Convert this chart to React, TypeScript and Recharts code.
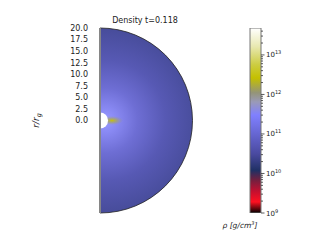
import { PieChart, Pie, ComposedChart, BarChart, Bar, XAxis, YAxis } from 'recharts';

const title = 'Density t=0.118';
const rTicks = [0, 2.5, 5, 7.5, 10, 12.5, 15, 17.5, 20];
const rDomain = [-20, 20];
const rOuter = 20;
const rInner = 1.75;
const diskData = [{ name: 'disk', value: 1 }];
const holeData = [{ name: 'hole', value: 1 }];
const rhoRange = [1e9, 4.8e13];
const rhoMajor = [1e9, 1e10, 1e11, 1e12, 1e13];
const rhoMinorMult = [2, 3, 4, 5, 6, 7, 8, 9];
const rhoTicks = [
  ...rhoMajor,
  ...rhoMajor.flatMap((d) => rhoMinorMult.map((m) => m * d)).filter((v) => v < rhoRange[1]),
];
const cbData = [{ name: 'rho', range: rhoRange }];

// colormap stops, bottom (0) to top (1)
const cmap: [number, string][] = [
  [0, '#000000'],
  [0.06, '#ff1020'],
  [0.12, '#c01030'],
  [0.18, '#702040'],
  [0.23, '#203064'],
  [0.32, '#4a4aa0'],
  [0.45, '#6c6cdc'],
  [0.53, '#8080ff'],
  [0.6, '#9a9ab8'],
  [0.65, '#949478'],
  [0.73, '#c4c000'],
  [0.8, '#cccc40'],
  [0.9, '#e8e8b0'],
  [1, '#ffffff'],
];

const W = 320;
const H = 240;
const plot = { left: 100, top: 28, width: 92, height: 185 };
const cx = plot.left;
const cy = plot.top + plot.height / 2;
const pxPerR = plot.height / (rDomain[1] - rDomain[0]);

const CbTick = (props: any) => {
  const { x, y, payload } = props;
  const v = payload.value;
  const major = rhoMajor.includes(v);
  return (
    <g>
      <line x1={x} x2={x + (major ? 3.5 : 2)} y1={y} y2={y} stroke="#333" strokeWidth={0.8} />
      {major && (
        <text x={x + 5} y={y + 2.5} fontSize={7} fill="#222">
          10
          <tspan fontSize={5} dy={-3}>
            {Math.round(Math.log10(v))}
          </tspan>
        </text>
      )}
    </g>
  );
};

export default function App() {
  return (
    <div style={{ position: 'absolute', left: 0, top: 0, width: W, height: H, fontFamily: 'DejaVu Sans', background: '#fff' }}>
      <div style={{ position: 'absolute', left: 0, top: 0 }}>
        <PieChart width={W} height={H} margin={{ top: 0, right: 0, bottom: 0, left: 0 }}>
          <defs>
            <radialGradient id="rho" gradientUnits="userSpaceOnUse" cx={cx + 5} cy={cy} r={rOuter * pxPerR}>
              <stop offset="0" stopColor="#9a9aff" />
              <stop offset="0.12" stopColor="#8a8af4" />
              <stop offset="0.35" stopColor="#6e6ed4" />
              <stop offset="0.65" stopColor="#5759b4" />
              <stop offset="1" stopColor="#474c9a" />
            </radialGradient>
            <radialGradient
              id="blob"
              gradientUnits="userSpaceOnUse"
              cx={cx + 12}
              cy={cy}
              r={11}
              gradientTransform={`translate(${cx + 12} ${cy}) scale(1 0.4) translate(${-(cx + 12)} ${-cy})`}
            >
              <stop offset="0" stopColor="#c8c400" stopOpacity={0.95} />
              <stop offset="0.4" stopColor="#b4b030" stopOpacity={0.6} />
              <stop offset="1" stopColor="#9a9a70" stopOpacity={0} />
            </radialGradient>
          </defs>
          <Pie
            data={diskData}
            dataKey="value"
            cx={cx}
            cy={cy}
            startAngle={90}
            endAngle={-90}
            innerRadius={0}
            outerRadius={rOuter * pxPerR}
            fill="url(#rho)"
            stroke="#222"
            strokeWidth={0.8}
            isAnimationActive={false}
          />
          <Pie
            data={diskData}
            dataKey="value"
            cx={cx}
            cy={cy}
            startAngle={90}
            endAngle={-90}
            innerRadius={0}
            outerRadius={rOuter * pxPerR - 1}
            fill="url(#blob)"
            stroke="none"
            isAnimationActive={false}
          />
          <Pie
            data={holeData}
            dataKey="value"
            cx={cx}
            cy={cy}
            startAngle={90}
            endAngle={-90}
            innerRadius={0}
            outerRadius={rInner * pxPerR}
            fill="#ffffff"
            stroke="none"
            isAnimationActive={false}
          />
        </PieChart>
      </div>
      <div style={{ position: 'absolute', left: 0, top: 0 }}>
        <ComposedChart
          width={W}
          height={H}
          data={rTicks.map((r) => ({ r }))}
          margin={{ top: plot.top, right: W - plot.left - plot.width, bottom: H - plot.top - plot.height, left: 0 }}
        >
          <XAxis dataKey="r" hide />
          <YAxis
            type="number"
            width={plot.left}
            domain={rDomain}
            ticks={rTicks}
            interval={0}
            allowDataOverflow
            tickFormatter={(v: number) => v.toFixed(1)}
            tick={{ fontSize: 8, fill: '#222' }}
            tickLine={false}
            tickMargin={6}
            axisLine={{ stroke: '#868686', strokeWidth: 2 }}
          />
          <text x={145} y={23} fontSize={8} fill="#222" textAnchor="middle">
            {title}
          </text>
          <text x={39} y={cy} fontSize={9} fill="#222" fontStyle="italic" textAnchor="middle" transform={`rotate(-90 39 ${cy})`}>
            r/r
            <tspan fontSize={6.5} dy={2}>g</tspan>
          </text>
        </ComposedChart>
      </div>
      <div style={{ position: 'absolute', left: 0, top: 0 }}>
        <BarChart
          width={W}
          height={H}
          data={cbData}
          barCategoryGap={0}
          margin={{ top: plot.top, right: 0, bottom: H - plot.top - plot.height, left: 250 }}
        >
          <defs>
            <linearGradient id="cmap" x1="0" y1="1" x2="0" y2="0">
              {cmap.map(([o, c]) => (
                <stop key={o} offset={o} stopColor={c} />
              ))}
            </linearGradient>
          </defs>
          <XAxis dataKey="name" hide />
          <YAxis
            orientation="right"
            width={59}
            scale="log"
            type="number"
            domain={rhoRange}
            allowDataOverflow
            ticks={rhoTicks}
            interval={0}
            tickSize={0}
            tickMargin={0}
            tickLine={false}
            axisLine={false}
            tick={<CbTick />}
          />
          <Bar dataKey="range" fill="url(#cmap)" stroke="#777" strokeWidth={1} isAnimationActive={false} />
          <text x={240} y={228} fontSize={7.5} fill="#222" fontStyle="italic" textAnchor="middle">
            ρ [g/cm
            <tspan fontSize={5} dy={-3}>3</tspan>
            <tspan dy={3}>]</tspan>
          </text>
        </BarChart>
      </div>
    </div>
  );
}
